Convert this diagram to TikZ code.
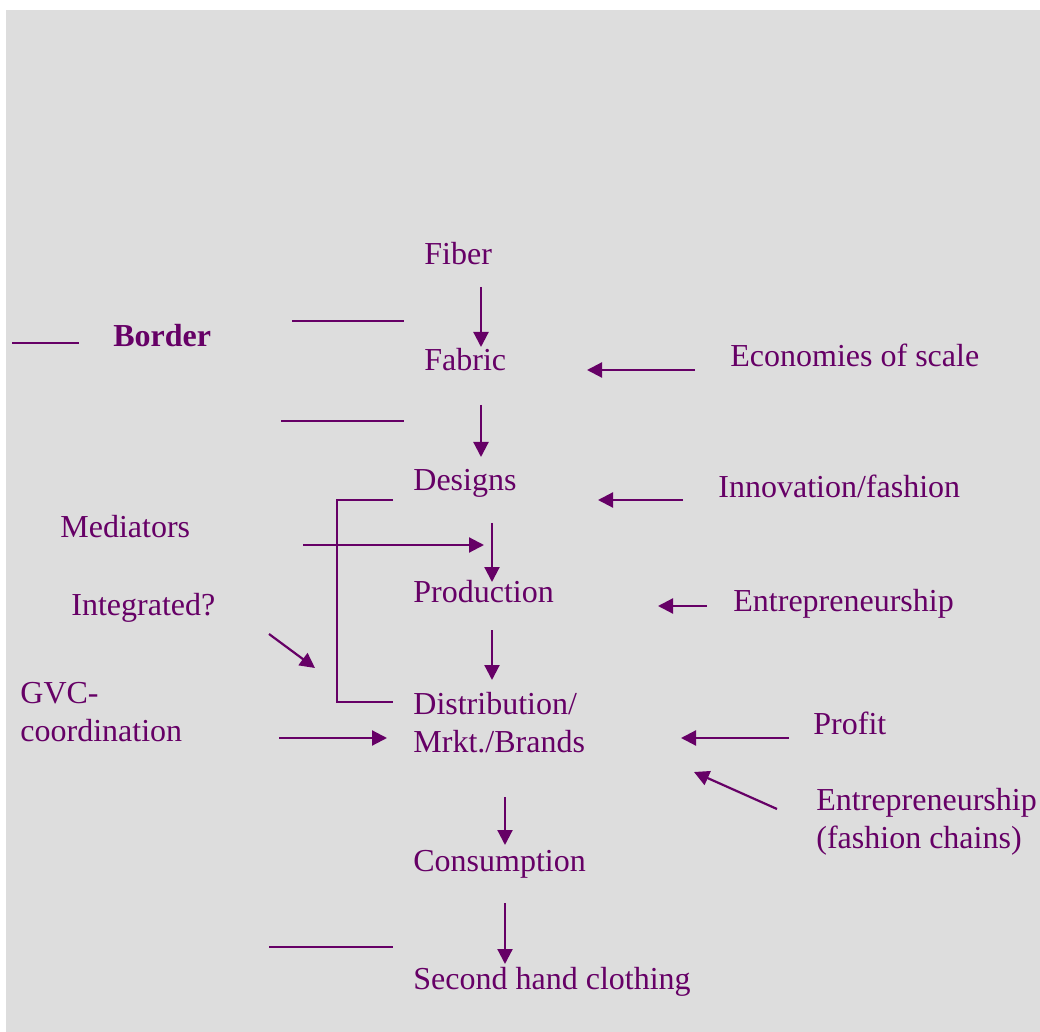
\documentclass[tikz,border=0pt]{standalone}
\usepackage{fontspec}
\setmainfont{Liberation Serif}
\usetikzlibrary{arrows.meta}
\begin{document}
\begin{tikzpicture}[x=0.5pt, y=-0.5pt,
    chaintext/.style={inner sep=0, anchor=base west, text=chainpurple, align=left, font=\fontsize{16}{19}\selectfont},
    flow/.style={draw=chainpurple, line width=1.1pt, -{Triangle[length=7.5pt, width=7.5pt]}},
    rule/.style={draw=chainpurple, line width=1.1pt},
  ]

\definecolor{chainpurple}{RGB}{102, 0, 102}
\definecolor{sheetgray}{RGB}{221, 221, 221}

%sheet
\useasboundingbox (0,0) rectangle (1040,1032);
\fill[sheetgray] (6,10) rectangle (1040,1032);

%value chain
\node[chaintext] (fiber) at (424,265) {Fiber};
\node[chaintext] (fabric) at (424,371) {Fabric};
\node[chaintext] (designs) at (413,490) {Designs};
\node[chaintext] (production) at (413,603) {Production};
\node[chaintext] (distribution) at (413,752) {Distribution/\\Mrkt./Brands};
\node[chaintext] (consumption) at (413,871) {Consumption};
\node[chaintext] (secondhand) at (413,989) {Second hand clothing};

%left side
\node[chaintext, font=\fontsize{16}{19}\selectfont\bfseries] (border) at (113,347) {Border};
\node[chaintext] (mediators) at (60,538) {Mediators};
\node[chaintext] (integrated) at (71,615) {Integrated?};
\node[chaintext] (gvc) at (20,741) {GVC-\\coordination};

%right side
\node[chaintext] (scale) at (730,367) {Economies of scale};
\node[chaintext] (innovation) at (718,498) {Innovation/fashion};
\node[chaintext] (entre) at (733,611) {Entrepreneurship};
\node[chaintext] (profit) at (813,734) {Profit};
\node[chaintext] (chains) at (816,848) {Entrepreneurship\\(fashion chains)};

%arrow ends
\coordinate (fiberout) at (481,287);   \coordinate (fabricin) at (481,347);
\coordinate (fabricout) at (481,405);  \coordinate (designsin) at (481,457);
\coordinate (designsout) at (492,523); \coordinate (prodin) at (492,582);
\coordinate (prodout) at (492,630);    \coordinate (distin) at (492,680);
\coordinate (distout) at (505,797);    \coordinate (consin) at (505,845);
\coordinate (consout) at (505,903);    \coordinate (secin) at (505,964);
\coordinate (medout) at (303,545);     \coordinate (medin) at (484,545);
\coordinate (intout) at (269,634);     \coordinate (intin) at (315,668);
\coordinate (gvcout) at (279,738);     \coordinate (gvcin) at (387,738);
\coordinate (scaleout) at (695,370);   \coordinate (scalein) at (587,370);
\coordinate (innoout) at (683,500);    \coordinate (innoin) at (598,500);
\coordinate (entreout) at (707,606);   \coordinate (entrein) at (658,606);
\coordinate (profitout) at (789,738);  \coordinate (profitin) at (681,738);
\coordinate (chainsout) at (777,809);  \coordinate (chainsin) at (694,772);

%down the chain
\draw[flow] (fiberout) -- (fabricin);
\draw[flow] (fabricout) -- (designsin);
\draw[flow] (designsout) -- (prodin);
\draw[flow] (prodout) -- (distin);
\draw[flow] (distout) -- (consin);
\draw[flow] (consout) -- (secin);

%drivers
\draw[flow] (medout) -- (medin);
\draw[flow] (intout) -- (intin);
\draw[flow] (gvcout) -- (gvcin);
\draw[flow] (scaleout) -- (scalein);
\draw[flow] (innoout) -- (innoin);
\draw[flow] (entreout) -- (entrein);
\draw[flow] (profitout) -- (profitin);
\draw[flow] (chainsout) -- (chainsin);

%border lines and bracket
\draw[rule] (12,343) -- (79,343);
\draw[rule] (292,321) -- (404,321);
\draw[rule] (281,421) -- (404,421);
\draw[rule] (269,947) -- (393,947);
\draw[rule] (393,500) -- (337,500) -- (337,702) -- (393,702);
\end{tikzpicture}
\end{document}
